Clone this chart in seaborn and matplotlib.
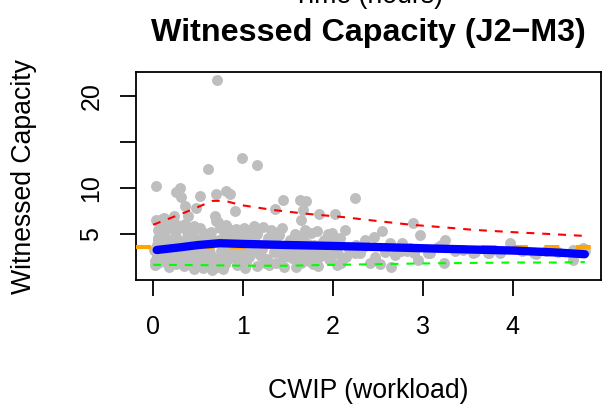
import numpy as np
import pandas as pd
import matplotlib
matplotlib.use("Agg")
import matplotlib.pyplot as plt
import seaborn as sns

# --- scatter data (CWIP vs witnessed capacity) ---
x_a = [0.02, 0.03, 0.04, 0.05, 0.06, 0.02, 0.08, 0.10, 0.12, 0.03, 0.05, 0.07, 0.09, 0.11, 0.14,
       0.16, 0.18, 0.20, 0.22, 0.24, 0.26, 0.28, 0.01, 0.04, 0.13, 0.17, 0.21, 0.25, 0.29, 0.15]
y_a = [2.1, 3.0, 3.8, 4.6, 5.4, 1.6, 2.6, 4.1, 5.0, 6.5, 1.9, 3.4, 2.2, 4.8, 3.1,
       5.6, 2.4, 4.3, 3.6, 5.2, 1.7, 2.9, 3.3, 2.7, 4.4, 3.9, 2.0, 4.7, 3.2, 1.8]

x_b = [0.31, 0.33, 0.35, 0.37, 0.39, 0.41, 0.43, 0.45, 0.47, 0.49, 0.51, 0.53, 0.55, 0.57, 0.59,
       0.32, 0.36, 0.40, 0.44, 0.48, 0.52, 0.56, 0.34, 0.42, 0.50, 0.58, 0.38, 0.46, 0.54, 0.60]
y_b = [2.3, 4.0, 5.5, 3.1, 1.9, 4.6, 2.8, 5.9, 3.6, 2.1, 4.3, 1.7, 3.3, 5.1, 2.6,
       3.8, 6.1, 2.2, 4.9, 3.0, 5.6, 3.9, 1.5, 3.4, 2.5, 4.4, 4.7, 1.2, 3.0, 2.0]

x_c = [0.62, 0.64, 0.66, 0.68, 0.70, 0.72, 0.74, 0.76, 0.78, 0.80, 0.82, 0.84, 0.86, 0.88, 0.90,
       0.92, 0.94, 0.96, 0.98, 0.63, 0.67, 0.71, 0.75, 0.79, 0.83, 0.87, 0.91, 0.95, 0.99, 0.69,
       0.77, 0.85, 0.93]
y_c = [3.5, 5.2, 1.1, 4.1, 6.4, 2.4, 5.6, 3.2, 4.6, 1.7, 3.8, 5.0, 2.6, 4.3, 3.0,
       5.5, 2.0, 3.6, 4.8, 2.9, 4.4, 1.4, 3.9, 5.3, 2.3, 3.4, 4.9, 2.7, 3.1, 6.9,
       2.1, 4.0, 1.6]

x_d = [1.01, 1.04, 1.07, 1.10, 1.13, 1.16, 1.19, 1.22, 1.25, 1.28, 1.31, 1.34, 1.37, 1.40, 1.43,
       1.46, 1.49, 1.03, 1.09, 1.15, 1.21, 1.27, 1.33, 1.39, 1.45, 1.06, 1.18, 1.30, 1.42, 1.12,
       1.24, 1.36, 1.48]
y_d = [5.6, 3.2, 2.5, 5.3, 4.1, 1.5, 3.6, 5.8, 2.2, 4.6, 5.4, 3.0, 1.9, 4.9, 5.7,
       2.5, 3.8, 2.0, 4.4, 5.0, 3.4, 2.3, 4.8, 5.2, 1.4, 3.9, 2.8, 4.2, 3.1, 5.9,
       1.8, 4.5, 2.6]

x_e = [1.52, 1.55, 1.58, 1.61, 1.64, 1.67, 1.70, 1.73, 1.76, 1.79, 1.82, 1.85, 1.88, 1.91, 1.94,
       1.97, 2.00, 2.03, 2.06, 2.09, 1.54, 1.60, 1.66, 1.72, 1.78, 1.84, 1.90, 1.96, 2.02, 2.08]
y_e = [4.3, 2.4, 5.0, 3.3, 1.8, 4.5, 3.0, 2.1, 5.1, 3.8, 5.3, 2.5, 4.0, 3.1, 5.0,
       2.2, 3.6, 4.2, 2.8, 1.9, 3.2, 4.8, 2.6, 3.9, 1.7, 3.4, 4.4, 2.3, 3.0, 4.6]

x_f = [2.13, 2.15, 2.24, 2.26, 2.30, 2.36, 2.41, 2.46, 2.47, 2.52, 2.54, 2.63, 2.65, 2.72, 2.76,
       2.77, 2.86, 2.95, 2.97, 2.18, 2.33, 2.58, 2.69, 2.82, 2.90]
y_f = [5.4, 2.5, 2.9, 3.8, 2.9, 4.35, 1.8, 4.7, 2.5, 1.74, 5.3, 4.0, 1.45, 3.26, 3.1,
       4.0, 3.5, 2.2, 4.9, 3.4, 3.6, 3.0, 2.7, 3.2, 2.9]

x_g = [3.06, 3.08, 3.17, 3.20, 3.23, 3.24, 3.36, 3.45, 3.56, 3.58, 3.72, 3.74, 3.86, 3.97, 4.10,
       4.24, 4.26, 4.37, 4.50, 4.67, 4.67, 4.67, 4.78, 4.80]
y_g = [2.9, 2.9, 3.6, 3.8, 1.9, 4.4, 3.1, 3.3, 2.9, 3.0, 2.9, 2.9, 2.9, 4.0, 3.2,
       2.9, 2.8, 3.1, 3.0, 3.26, 2.2, 2.7, 3.5, 3.1]

x_h = [0.06, 0.09, 0.15, 0.19, 0.27, 0.33, 0.41, 0.46, 0.53, 0.58, 0.65, 0.73, 0.81, 0.89, 0.97,
       1.05, 1.11, 1.20, 1.26, 1.35, 1.41, 1.50, 1.57, 1.63, 1.69, 1.75, 1.81, 1.87, 1.93, 1.99,
       0.07, 0.18, 0.36, 0.55, 0.78, 1.02, 1.29, 1.59, 1.83, 2.05]
y_h = [4.3, 5.8, 2.5, 3.4, 4.0, 3.6, 5.2, 2.4, 3.9, 4.9, 2.2, 4.4, 3.0, 5.4, 4.2,
       4.7, 3.3, 2.6, 4.0, 3.6, 2.9, 3.5, 4.1, 2.8, 5.4, 3.3, 2.7, 3.7, 4.5, 5.1,
       2.4, 1.4, 1.6, 1.3, 1.2, 1.3, 1.6, 1.4, 1.5, 1.6]

x_high = [0.71, 0.99, 1.16, 0.61, 0.03, 0.30, 0.26, 0.31, 0.52, 0.70, 0.81, 0.86, 0.91, 0.35, 0.48,
          0.39, 0.23, 1.44, 1.63, 1.70, 1.36, 1.67, 1.65, 1.84, 2.02, 2.25, 2.89, 0.10, 0.72, 0.81,
          0.27, 0.12, 0.22]
y_high = [21.7, 13.3, 12.5, 12.1, 10.25, 10.0, 9.6, 9.05, 9.1, 9.3, 9.7, 9.3, 7.5, 8.0, 7.8,
          7.0, 7.0, 8.7, 8.7, 8.6, 7.7, 7.6, 6.5, 7.2, 7.2, 8.9, 6.2, 6.6, 6.3, 6.0,
          6.0, 6.7, 6.3]

# --- reference lines ---
mean_capacity = 3.62

smooth_x = [0.04, 0.3, 0.5, 0.74, 1.0, 1.5, 2.0, 2.5, 3.0, 3.5, 4.0, 4.5, 4.8]
smooth_y = [3.26, 3.55, 3.8, 4.0, 3.92, 3.8, 3.7, 3.58, 3.45, 3.32, 3.2, 2.98, 2.8]

upper_x = [0.0, 0.37, 0.66, 0.8, 0.97, 1.34, 1.7, 2.1, 2.5, 2.87, 3.2, 3.56, 4.0, 4.4, 4.78]
upper_y = [6.0, 7.4, 8.6, 8.6, 8.15, 7.6, 7.2, 6.85, 6.4, 6.0, 5.75, 5.45, 5.2, 5.0, 4.8]

lower_x = [0.0, 0.5, 1.0, 1.5, 2.0, 2.5, 3.0, 3.5, 4.0, 4.5, 4.8]
lower_y = [1.65, 1.62, 1.55, 1.55, 1.65, 1.72, 1.8, 1.85, 1.9, 1.9, 1.95]

x_ticks = [0, 1, 2, 3, 4]
y_ticks = [5, 10, 15, 20]
y_tick_labels = ["5", "10", "", "20"]

df = pd.DataFrame({
    "cwip": x_a + x_b + x_c + x_d + x_e + x_f + x_g + x_h + x_high,
    "capacity": y_a + y_b + y_c + y_d + y_e + y_f + y_g + y_h + y_high,
})

sns.set_theme(style="white")
plt.rcParams["font.family"] = ["Liberation Sans", "DejaVu Sans"]
plt.rcParams["text.color"] = "black"

fig = plt.figure(figsize=(6.03, 4.11), dpi=100)
ax = fig.add_axes([136 / 603, 1 - 280 / 411, 465 / 603, 208 / 411])

sns.scatterplot(data=df, x="cwip", y="capacity", ax=ax, color="#BEBEBE",
                s=62, linewidth=0, zorder=2)

ax.axhline(mean_capacity, color="orange", linewidth=2.9,
           linestyle=(0, (3.7, 4.1)), zorder=3)
sns.lineplot(x=upper_x, y=upper_y, ax=ax, color="red", linewidth=1.5,
             linestyle=(0, (3.8, 3.8)), zorder=4, sort=False)
sns.lineplot(x=lower_x, y=lower_y, ax=ax, color="#00FF00", linewidth=1.5,
             linestyle=(0, (3.8, 3.8)), zorder=4, sort=False)
sns.lineplot(x=smooth_x, y=smooth_y, ax=ax, color="blue", linewidth=6.0,
             solid_capstyle="round", zorder=5, sort=False)

ax.set_xlim(-0.19, 4.98)
ax.set_ylim(0.0, 22.6)
ax.set_xticks(x_ticks)
ax.set_yticks(y_ticks)
ax.set_yticklabels(y_tick_labels, rotation=90, va="center")
ax.tick_params(axis="both", direction="out", length=11.5, width=1.3,
               color="black", labelsize=18, labelcolor="black",
               bottom=True, left=True)
ax.tick_params(axis="x", pad=14)
ax.tick_params(axis="y", pad=12)
for sp in ax.spines.values():
    sp.set_visible(True)
    sp.set_color("black")
    sp.set_linewidth(1.3)

ax.set_xlabel("")
ax.set_ylabel("")
fig.text(368 / 603, 1 - 391 / 411, "CWIP (workload)", ha="center", va="center",
         fontsize=19.2, color="black")
fig.text(24 / 603, 1 - 176 / 411, "Witnessed Capacity", ha="center", va="center",
         rotation=90, fontsize=19.2, color="black")
fig.text(368 / 603, 1 - 41 / 411, "Witnessed Capacity (J2\u2212M3)", ha="center",
         va="baseline", fontsize=23.2, fontweight="bold", color="black")
fig.text(368 / 603, 1 - 3 / 411, "Time (hours)", ha="center", va="baseline",
         fontsize=19.2, color="black")

fig.savefig("out.png", dpi=100)
